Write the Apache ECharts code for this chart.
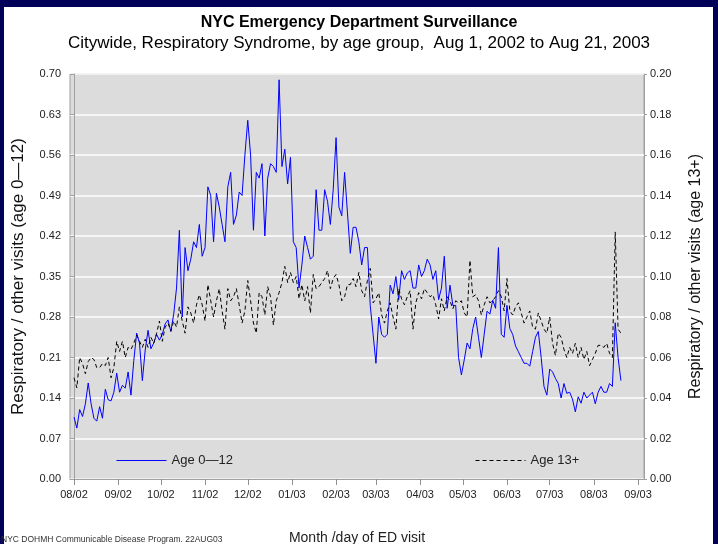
<!DOCTYPE html>
<html><head><meta charset="utf-8">
<script src="https://cdn.jsdelivr.net/npm/echarts@6/dist/echarts.min.js"></script>
<style>html,body{margin:0;padding:0;background:#000058;}#c{width:718px;height:544px;}</style>
</head><body><div id="c"></div>
<script>
// Readings every 2 days starting Aug 1, 2002
const startYear = 2002, startMonth = 7, startDay = 1;
const stepDays = 2;

const age0to12 = [
0.107,0.088,0.12,0.108,0.13,0.166,0.13,0.105,0.10,
0.125,0.105,0.155,0.137,0.135,0.15,0.183,0.15,0.162,0.157,
0.185,0.145,0.205,0.252,0.235,0.17,0.223,0.257,0.225,0.235,
0.25,0.24,0.25,0.268,0.275,0.255,0.285,0.33,0.43,0.28,
0.40,0.36,0.38,0.41,0.40,0.44,0.385,0.40,0.505,0.49,
0.41,0.494,0.47,0.44,0.41,0.505,0.53,0.44,0.456,0.496,
0.49,0.56,0.62,0.56,0.43,0.53,0.52,0.545,0.42,0.52,
0.545,
0.54,0.53,0.69,0.54,0.57,0.51,0.556,0.41,
0.40,0.33,0.37,0.42,0.40,0.38,0.385,0.50,0.43,0.43,
0.50,0.48,0.44,0.50,0.59,0.47,0.455,0.53,0.46,0.39,
0.435,0.435,0.41,0.37,0.40,0.40,0.30,0.25,0.20,0.28,
0.25,0.245,0.25,0.335,0.32,0.35,0.31,0.36,0.345,0.356,
0.36,0.33,0.33,0.37,0.35,0.36,0.38,0.37,0.345,0.36,
0.31,0.33,
0.385,0.295,0.335,0.30,0.30,0.21,0.18,
0.206,0.235,0.225,0.26,0.28,0.245,0.21,0.25,0.29,0.285,
0.309,0.295,0.40,0.25,0.245,0.30,0.26,0.25,0.23,0.22,
0.21,0.20,0.20,0.195,0.22,0.245,0.255,0.21,0.16,0.145,
0.19,0.185,0.174,0.165,0.14,0.165,0.148,0.15,0.138,0.116,
0.142,0.131,0.15,0.14,0.145,0.15,0.13,0.15,0.16,0.15,
0.15,0.165,0.16,0.27,0.21,
0.17
];

const age13plus = [
0.05,0.045,0.06,0.057,0.052,0.058,0.060,0.059,0.055,
0.055,0.057,0.056,0.060,0.050,0.055,0.068,0.063,0.068,0.060,
0.065,0.064,0.067,0.071,0.068,0.065,0.069,0.065,0.070,0.067,
0.072,0.078,0.068,0.075,0.077,0.073,0.078,0.075,0.085,0.078,
0.072,0.085,0.082,0.077,0.086,0.091,0.086,0.078,0.096,0.088,
0.080,0.088,0.094,0.083,0.074,0.094,0.088,0.09,0.094,0.086,
0.077,0.083,0.098,0.088,0.077,0.072,0.092,0.09,0.081,0.095,
0.090,
0.076,0.088,0.092,0.097,0.105,0.097,0.102,0.097,
0.100,0.089,0.096,0.088,0.095,0.082,0.101,0.094,0.095,0.097,
0.099,0.103,0.094,0.099,0.101,0.096,0.088,0.090,0.096,0.096,
0.099,0.095,0.102,0.093,0.09,0.098,0.104,0.087,0.089,0.092,
0.081,0.077,0.083,0.087,0.080,0.074,0.094,0.089,0.086,0.090,
0.093,0.074,0.087,0.092,0.089,0.094,0.092,0.090,0.091,0.086,
0.079,0.089,
0.083,0.090,0.088,0.084,0.088,0.087,0.088,
0.082,0.080,0.108,0.090,0.091,0.088,0.081,0.086,0.090,0.087,
0.088,0.090,0.093,0.090,0.083,0.099,0.083,0.081,0.085,0.087,
0.082,0.077,0.080,0.083,0.075,0.074,0.082,0.078,0.074,0.072,
0.080,0.067,0.061,0.072,0.070,0.064,0.060,0.065,0.062,0.067,
0.060,0.065,0.059,0.063,0.056,0.059,0.062,0.066,0.066,0.065,
0.067,0.062,0.060,0.122,0.074,
0.072
];

const monthTickLabels = ['08/02','09/02','10/02','11/02','12/02','01/03','02/03','03/03','04/03','05/03','06/03','07/03','08/03','09/03'];
const seriesNames = ['Age 0\u201412', 'Age 13+'];
const seriesColors = ['#0000ff', '#000000'];

// x is expressed as day number since Aug 1, 2002
const DAY = 86400000;
const t0 = Date.UTC(startYear, startMonth, startDay);
const monthDays = monthTickLabels.map((s, k) => Math.round((Date.UTC(startYear, startMonth + k, 1) - t0) / DAY));

const chart = echarts.init(document.getElementById('c'));
const font = '"Liberation Sans", Arial, Helvetica, sans-serif';
function legendFor(k, left, dash) {
  return { data: [seriesNames[k]], left: left, top: 449, itemWidth: 50, itemHeight: 14,
    itemStyle: { opacity: 0 },
    lineStyle: { color: seriesColors[k], width: 1, type: dash },
    textStyle: { fontSize: 13, color: '#222', fontFamily: font } };
}
chart.setOption({
  animation: false,
  backgroundColor: '#000058',
  textStyle: { fontFamily: font },
  graphic: [
    { type: 'rect', z: -10, shape: { x: 4, y: 7, width: 709, height: 537 }, style: { fill: '#ffffff' } },
    { type: 'text', left: 1, top: 535, style: { text: 'NYC DOHMH Communicable Disease Program. 22AUG03', font: '8.5px ' + font, fill: '#333' } }
  ],
  title: {
    text: 'NYC Emergency Department Surveillance',
    subtext: 'Citywide, Respiratory Syndrome, by age group,  Aug 1, 2002 to Aug 21, 2003',
    left: 'center', top: 10, itemGap: 4,
    textStyle: { fontSize: 16, fontWeight: 'bold', color: '#000', fontFamily: font },
    subtextStyle: { fontSize: 17, color: '#000', fontFamily: font }
  },
  legend: [ legendFor(0, 111, 'solid'), legendFor(1, 470, [4, 3]) ],
  grid: { left: 70, right: 74, top: 74, bottom: 65, outerBoundsMode: 'none', containLabel: false,
    show: true, backgroundColor: '#dcdcdc', borderColor: '#a0a0a0', borderWidth: 1 },
  xAxis: {
    type: 'value',
    min: -2.8,
    max: 400.2,
    name: 'Month /day of ED visit', nameLocation: 'middle', nameGap: 52,
    nameTextStyle: { fontSize: 14, color: '#222', fontFamily: font },
    axisLine: { show: true, lineStyle: { color: '#a0a0a0' } },
    axisTick: { show: true, length: 6, customValues: monthDays, lineStyle: { color: '#909090' } },
    axisLabel: { customValues: monthDays, margin: 10, fontSize: 11, color: '#222', fontFamily: font,
      formatter: v => monthTickLabels[monthDays.indexOf(Math.round(v))] },
    splitLine: { show: false }
  },
  yAxis: [
    { type: 'value', min: 0, max: 0.7, interval: 0.07, position: 'left',
      name: 'Respiratory / other visits (age 0\u201412)', nameLocation: 'middle', nameGap: 43,
      nameTextStyle: { fontSize: 17, color: '#111', fontFamily: font },
      axisLine: { show: true, lineStyle: { color: '#a0a0a0' } },
      axisTick: { show: true, length: 4, lineStyle: { color: '#a0a0a0' } },
      axisLabel: { formatter: v => v.toFixed(2), fontSize: 11, color: '#222', margin: 9, fontFamily: font },
      splitLine: { show: true, lineStyle: { color: '#ffffff', width: 1.5 } } },
    { type: 'value', min: 0, max: 0.2, interval: 0.02, position: 'right',
      name: 'Respiratory / other visits (age 13+)', nameLocation: 'middle', nameGap: 44,
      nameTextStyle: { fontSize: 16, color: '#111', fontFamily: font },
      axisLine: { show: true, lineStyle: { color: '#a0a0a0' } },
      axisTick: { show: true, length: 3, lineStyle: { color: '#a0a0a0' } },
      axisLabel: { formatter: v => v.toFixed(2), fontSize: 11, color: '#222', margin: 6, fontFamily: font },
      splitLine: { show: false } }
  ],
  series: [
    { name: seriesNames[0], type: 'line', yAxisIndex: 0, symbol: 'none', showSymbol: false,
      color: seriesColors[0], lineStyle: { color: seriesColors[0], width: 1 },
      data: age0to12.map((v, i) => [stepDays * i, v]) },
    { name: seriesNames[1], type: 'line', yAxisIndex: 1, symbol: 'none', showSymbol: false,
      color: seriesColors[1], lineStyle: { color: seriesColors[1], width: 1, type: [4, 3] },
      data: age13plus.map((v, i) => [stepDays * i, v]) }
  ]
});
</script>
</body></html>
